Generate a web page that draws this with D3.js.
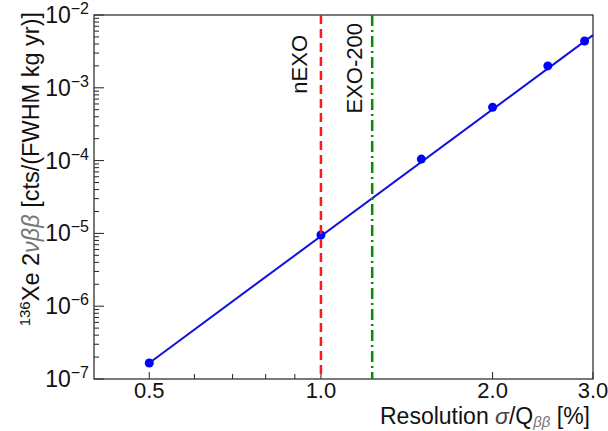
<!DOCTYPE html>
<html>
<head>
<meta charset="utf-8">
<script src="https://cdn.jsdelivr.net/npm/d3@7"></script>
<style>
  body { margin: 0; background: #fff; }
  text { font-family: "Liberation Sans", Arial, sans-serif; fill: #111; }
</style>
</head>
<body>
<div id="chart"></div>
<script>
// measured points: energy resolution (%) vs 2vbb background in ROI
const resolution = [0.5, 1.0, 1.5, 2.0, 2.5, 2.9];
const background = [1.66e-7, 9.5e-6, 1.05e-4, 5.4e-4, 2.0e-3, 4.4e-3];

// power-law fit, end points
const fitX = [0.5, 3.0];
const fitY = [1.66e-7, 5.3e-3];

// experiment resolutions
const markerNames = ["nEXO", "EXO-200"];
const markerValues = [1.0, 1.23];

const xTicks = [0.5, 0.6, 0.7, 0.8, 0.9, 1.0, 2.0, 3.0];
const xTickLabels = [0.5, 1.0, 2.0, 3.0];
const yDecades = [-7, -6, -5, -4, -3, -2];

function main(){
  const width = 608
  const height = 431
  const left = 94, right = 593, top = 15, bottom = 379

  const svg = d3.select("#chart")
    .append("svg")
    .attr("width", width)
    .attr("height", height)

  const x = d3.scaleLog().domain([0.4, 3.0]).range([left, right])
  const y = d3.scaleLog().domain([1e-7, 1e-2]).range([bottom, top])

  // y minor + major ticks (drawn inward)
  const yTickVals = []
  yDecades.forEach(function(e){
    for (let m = 1; m < 10; m++) {
      const v = m * Math.pow(10, e)
      if (v <= 1e-2 * 1.0001) yTickVals.push({v: v, major: m === 1})
    }
  })
  svg.append("g").selectAll("line")
    .data(yTickVals)
    .join("line")
    .attr("x1", left)
    .attr("x2", d => left + (d.major ? 10 : 5))
    .attr("y1", d => y(d.v))
    .attr("y2", d => y(d.v))
    .attr("stroke", "#222")
    .attr("stroke-width", 1)

  // x ticks
  svg.append("g").selectAll("line")
    .data(xTicks)
    .join("line")
    .attr("x1", d => x(d))
    .attr("x2", d => x(d))
    .attr("y1", bottom)
    .attr("y2", d => bottom - (xTickLabels.includes(d) ? 7 : 5))
    .attr("stroke", "#222")
    .attr("stroke-width", 1)

  // frame
  svg.append("rect")
    .attr("x", left)
    .attr("y", top)
    .attr("width", right - left)
    .attr("height", bottom - top)
    .attr("fill", "none")
    .attr("stroke", "#333")
    .attr("stroke-width", 1.3)

  // y tick labels 10^n
  const yl = svg.append("g").selectAll("text")
    .data(yDecades)
    .join("text")
    .attr("x", 89)
    .attr("y", d => y(Math.pow(10, d)) + 8)
    .attr("text-anchor", "end")
    .style("font-size", "23px")
  yl.append("tspan").text("10")
  yl.append("tspan")
    .attr("dy", -9)
    .style("font-size", "16px")
    .text(d => "\u2212" + Math.abs(d))

  // x tick labels
  svg.append("g").selectAll("text")
    .data(xTickLabels)
    .join("text")
    .attr("x", d => x(d))
    .attr("y", 398)
    .attr("text-anchor", "middle")
    .style("font-size", "22px")
    .text(d => d.toFixed(1))

  // fit line
  const line = d3.line()
    .x((d, i) => x(fitX[i]))
    .y(d => y(d))
  svg.append("path")
    .attr("d", line(fitY))
    .attr("fill", "none")
    .attr("stroke", "#1010e0")
    .attr("stroke-width", 2)

  // points
  svg.append("g").selectAll("circle")
    .data(background)
    .join("circle")
    .attr("cx", (d, i) => x(resolution[i]))
    .attr("cy", d => y(d))
    .attr("r", 4.5)
    .attr("fill", "#0000ff")

  // resolution markers
  svg.append("line")
    .attr("x1", x(markerValues[0])).attr("x2", x(markerValues[0]))
    .attr("y1", top).attr("y2", bottom)
    .attr("stroke", "#ff1a1a")
    .attr("stroke-width", 2.5)
    .attr("stroke-dasharray", "9,5")
  svg.append("line")
    .attr("x1", x(markerValues[1])).attr("x2", x(markerValues[1]))
    .attr("y1", top).attr("y2", bottom)
    .attr("stroke", "#0a8a0a")
    .attr("stroke-width", 2.5)
    .attr("stroke-dasharray", "11,4,2,4")

  // marker labels
  svg.append("text")
    .attr("transform", "translate(" + (x(markerValues[0]) - 14) + ",35) rotate(-90)")
    .attr("text-anchor", "end")
    .style("font-size", "22px")
    .text(markerNames[0])
  svg.append("text")
    .attr("transform", "translate(" + (x(markerValues[1]) - 10) + ",23) rotate(-90)")
    .attr("text-anchor", "end")
    .style("font-size", "22px")
    .text(markerNames[1])

  // x axis title
  const xt = svg.append("text")
    .attr("x", 590)
    .attr("y", 424)
    .attr("text-anchor", "end")
    .style("font-size", "23px")
  xt.append("tspan").text("Resolution ")
  xt.append("tspan").style("font-style", "italic").style("fill", "#444").text("\u03c3")
  xt.append("tspan").text("/Q")
  xt.append("tspan").attr("dy", 3).style("font-size", "15px").style("font-style", "italic").style("fill", "#777").text("\u03b2\u03b2")
  xt.append("tspan").attr("dy", -3).text(" [%]")

  // y axis title
  const ytl = svg.append("text")
    .attr("transform", "translate(39,12) rotate(-90)")
    .attr("text-anchor", "end")
    .style("font-size", "23.5px")
  ytl.append("tspan").attr("dy", -9).style("font-size", "15px").text("136")
  ytl.append("tspan").attr("dy", 9).text("Xe 2")
  ytl.append("tspan").style("font-style", "italic").style("fill", "#777").text("\u03bd\u03b2\u03b2")
  ytl.append("tspan").text(" [cts/(FWHM kg yr)]")
}
main();
</script>
</body>
</html>
